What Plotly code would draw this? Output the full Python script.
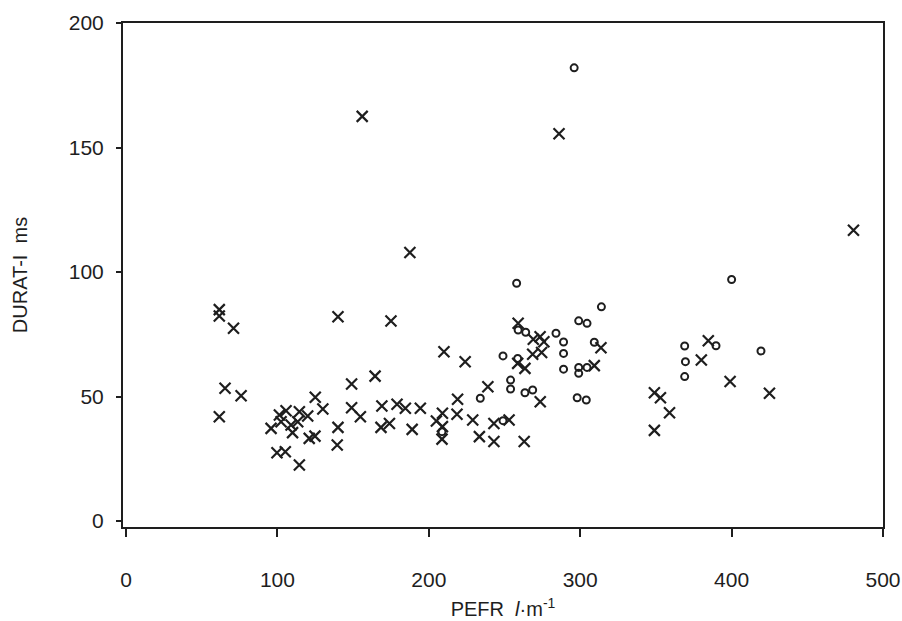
import plotly.graph_objects as go

# subjects marked with crosses
cross_pefr = [156, 286, 187.5, 480.5,
              61.6, 61.6, 71, 140, 65.4, 76, 61.6,
              125, 130, 140, 139.5, 149, 149,
              154.8, 175, 164.5, 169, 179, 184.5, 194.4, 168.4, 174, 189,
              210, 224, 205, 209, 209, 208.7, 219, 218.6, 229, 233.4, 239, 243, 253, 243,
              101.3, 105.7, 114.5, 120, 102.4, 109, 113.4, 95.8, 110, 121, 124.8, 99.7, 105.2, 114.5,
              259, 269, 273.5, 276, 313.7, 309.3, 268.6, 274.5, 258.7, 263.5, 273.6, 263,
              349, 353, 349, 359, 384.6, 380, 399, 425]
cross_durat = [162.5, 155.5, 107.8, 116.8,
               84.9, 82.3, 77.4, 82, 53.3, 50.3, 41.9,
               49.7, 45, 37.6, 30.5, 55, 45.5,
               41.9, 80.3, 58.2, 46.2, 46.9, 45.3, 45.3, 37.6, 39.2, 36.8,
               68, 64, 40.2, 43.3, 37.9, 32.9, 48.9, 42.9, 40.6, 33.9, 53.9, 39.2, 40.6, 31.9,
               42.6, 44.3, 43.9, 42.2, 39.9, 38.6, 39.9, 37.2, 35.5, 33.2, 34.1, 27.4, 27.8, 22.5,
               79.4, 73, 74, 72, 69.6, 62.4, 67, 67.7, 63.3, 61.3, 47.9, 31.9,
               51.5, 49.5, 36.4, 43.5, 72.4, 64.7, 56, 51.3]

# subjects marked with circles
circle_pefr = [296, 258, 400, 249, 234, 249, 208.7, 259, 264, 284, 299, 304.5, 314,
               289, 309.3, 289, 289, 299, 299, 304.5, 298, 304, 258.7, 254, 254, 263.5, 268.6,
               369, 369.5, 369, 389.7, 419.4]
circle_durat = [182, 95.5, 97, 66.3, 49.3, 40.3, 35.9, 76.7, 75.8, 75.4, 80.4, 79.4, 86,
                71.9, 71.8, 67.3, 61, 61.7, 59.3, 61.7, 49.5, 48.6, 65.3, 56.6, 53, 51.5, 52.6,
                70.3, 64, 58, 70.4, 68.3]

x_ticks = [0, 100, 200, 300, 400, 500]
y_ticks = [0, 50, 100, 150, 200]

ink = '#1e1e1e'
font = 'Liberation Sans, Arial, sans-serif'

fig = go.Figure()
fig.add_trace(go.Scatter(x=cross_pefr, y=cross_durat, mode='markers',
                         marker=dict(symbol='x-thin', size=11, color=ink,
                                     line=dict(width=2.2, color=ink))))
fig.add_trace(go.Scatter(x=circle_pefr, y=circle_durat, mode='markers',
                         marker=dict(symbol='circle-open', size=7, color=ink,
                                     line=dict(width=2, color=ink))))

fig.update_xaxes(range=[-2, 500], tickvals=x_ticks, ticks='outside', ticklen=8, tickwidth=2,
                 tickcolor=ink, showline=True, linewidth=2, linecolor=ink, mirror=True,
                 showgrid=False, zeroline=False, ticklabelstandoff=25, automargin=False,
                 tickfont=dict(family=font, size=21, color=ink),
                 title=dict(text='PEFR  <i>l</i>·m<sup>-1</sup>', standoff=12,
                            font=dict(family=font, size=20, color=ink)))
fig.update_yaxes(range=[-2.4, 200], tickvals=y_ticks, ticks='outside', ticklen=5, tickwidth=2,
                 tickcolor=ink, showline=True, linewidth=2, linecolor=ink, mirror=True,
                 showgrid=False, zeroline=False, ticklabelstandoff=8, automargin=False,
                 tickfont=dict(family=font, size=21, color=ink),
                 title=dict(text='DURAT-I  ms', standoff=36,
                            font=dict(family=font, size=20, color=ink)))

fig.update_layout(width=902, height=621, showlegend=False,
                  margin=dict(l=123, r=19, t=23, b=94),
                  plot_bgcolor='white', paper_bgcolor='white')

# the page's default body margin would shift the figure by 8px
fig.write_html('out.html', config={'displayModeBar': False},
               post_script="document.body.style.margin='0';")
